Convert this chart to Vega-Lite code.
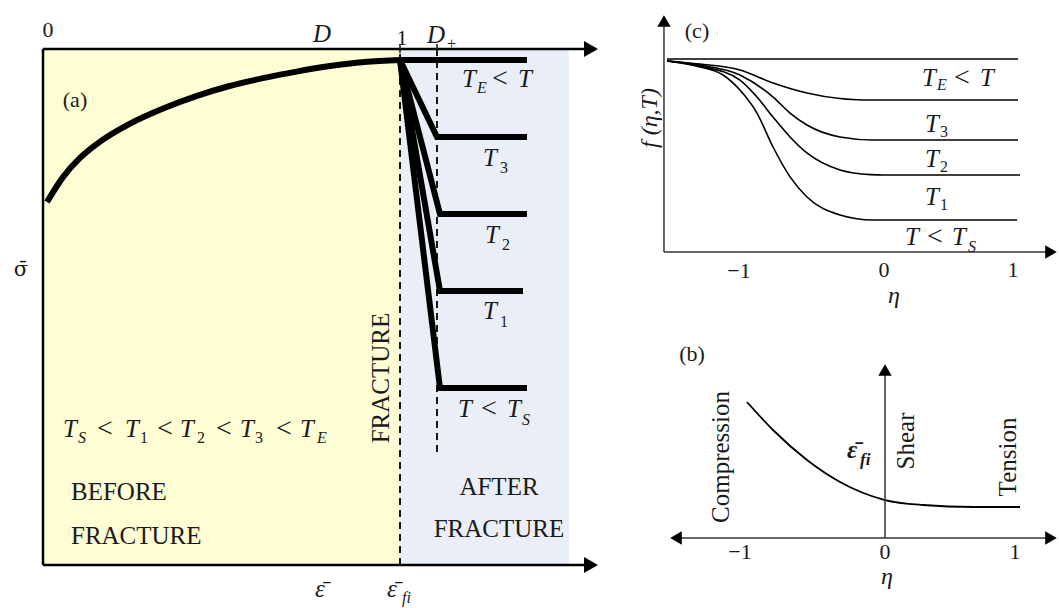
{
  "$schema": "https://vega.github.io/schema/vega-lite/v6.json",
  "padding": 0,
  "background": "white",
  "spacing": 0,
  "config": {"view": {"stroke": null}, "text": {"font": "Liberation Serif", "color": "#1a1a1a"}},
  "datasets": {
    "aBg": [
      {"region": "before", "x": 0, "x2": 1, "y": 0, "y2": 1.0218},
      {"region": "after", "x": 1, "x2": 1.4734, "y": 0, "y2": 1.0218}
    ],
    "aRule": [
      {"k": "axis", "x": 0, "x2": 0, "y": 0, "y2": 1.0218},
      {"k": "axis", "x": 0, "x2": 1.535, "y": 1.0218, "y2": 1.0218},
      {"k": "axis", "x": 0, "x2": 1.535, "y": 0, "y2": 0},
      {"k": "dash", "x": 1, "x2": 1, "y": 0, "y2": 1.0218},
      {"k": "dash", "x": 1.1036, "x2": 1.1036, "y": 0.2238, "y2": 1.0218},
      {"k": "tick", "x": 1, "x2": 1, "y": 1.0139, "y2": 1.0317},
      {"k": "tick", "x": 1.1036, "x2": 1.1036, "y": 1.0139, "y2": 1.0317}
    ],
    "aArrow": [
      {"d": "right", "x": 1.535, "y": 1.0218},
      {"d": "right", "x": 1.535, "y": 0}
    ],
    "aLine": [
      {"s": "pre", "o": 1, "x": 0.0112, "y": 0.7188},
      {"s": "pre", "o": 2, "x": 0.056, "y": 0.768},
      {"s": "pre", "o": 3, "x": 0.1036, "y": 0.806},
      {"s": "pre", "o": 4, "x": 0.1513, "y": 0.834},
      {"s": "pre", "o": 5, "x": 0.2437, "y": 0.874},
      {"s": "pre", "o": 6, "x": 0.34, "y": 0.905},
      {"s": "pre", "o": 7, "x": 0.4314, "y": 0.929},
      {"s": "pre", "o": 8, "x": 0.52, "y": 0.948},
      {"s": "pre", "o": 9, "x": 0.6162, "y": 0.964},
      {"s": "pre", "o": 10, "x": 0.71, "y": 0.977},
      {"s": "pre", "o": 11, "x": 0.8039, "y": 0.988},
      {"s": "pre", "o": 12, "x": 0.9, "y": 0.996},
      {"s": "pre", "o": 13, "x": 1.0, "y": 1.0},
      {"s": "E", "o": 1, "x": 1, "y": 1},
      {"s": "E", "o": 2, "x": 1.3557, "y": 1},
      {"s": "T3", "o": 1, "x": 1, "y": 1},
      {"s": "T3", "o": 2, "x": 1.1036, "y": 0.8475},
      {"s": "T3", "o": 3, "x": 1.3557, "y": 0.8475},
      {"s": "T2", "o": 1, "x": 1, "y": 1},
      {"s": "T2", "o": 2, "x": 1.112, "y": 0.695},
      {"s": "T2", "o": 3, "x": 1.3557, "y": 0.695},
      {"s": "T1", "o": 1, "x": 1, "y": 1},
      {"s": "T1", "o": 2, "x": 1.112, "y": 0.5426},
      {"s": "T1", "o": 3, "x": 1.3445, "y": 0.5426},
      {"s": "Ts", "o": 1, "x": 1, "y": 1},
      {"s": "Ts", "o": 2, "x": 1.112, "y": 0.3505},
      {"s": "Ts", "o": 3, "x": 1.3557, "y": 0.3505}
    ],
    "aText": [
      {"k": "num", "t": "0", "x": 0.014, "y": 1.0594},
      {"k": "num", "t": "1", "x": 1.0056, "y": 1.0436},
      {"k": "num", "t": "(a)", "x": 0.0896, "y": 0.9208},
      {"k": "sig", "t": "σ̄", "x": -0.0616, "y": 0.5842},
      {"k": "lblL", "t": "BEFORE", "x": 0.0784, "y": 0.1446},
      {"k": "lblL", "t": "FRACTURE", "x": 0.0784, "y": 0.0574},
      {"k": "lblC", "t": "AFTER", "x": 1.2773, "y": 0.1545},
      {"k": "lblC", "t": "FRACTURE", "x": 1.2773, "y": 0.0713},
      {"k": "rot", "t": "FRACTURE", "x": 0.9468, "y": 0.3703},
      {"k": "math", "t": "D", "x": 0.7563, "y": 1.0356},
      {"k": "math", "t": "D", "x": 1.0756, "y": 1.0337},
      {"k": "math", "t": "T", "x": 1.1737, "y": 0.9465},
      {"k": "math", "t": "T", "x": 1.3305, "y": 0.9465},
      {"k": "math", "t": "T", "x": 1.2325, "y": 0.7901},
      {"k": "math", "t": "T", "x": 1.2381, "y": 0.6376},
      {"k": "math", "t": "T", "x": 1.2325, "y": 0.4871},
      {"k": "math", "t": "T", "x": 1.1625, "y": 0.2931},
      {"k": "math", "t": "T", "x": 1.2997, "y": 0.2931},
      {"k": "math", "t": "T", "x": 0.056, "y": 0.2535},
      {"k": "math", "t": "T", "x": 0.2297, "y": 0.2535},
      {"k": "math", "t": "T", "x": 0.3838, "y": 0.2535},
      {"k": "math", "t": "T", "x": 0.5518, "y": 0.2535},
      {"k": "math", "t": "T", "x": 0.7199, "y": 0.2535},
      {"k": "math", "t": "ε̄", "x": 0.7619, "y": -0.0634},
      {"k": "math", "t": "ε̄", "x": 0.9636, "y": -0.0634},
      {"k": "op", "t": "<", "x": 1.2577, "y": 0.9465},
      {"k": "op", "t": "<", "x": 1.2269, "y": 0.2931},
      {"k": "op", "t": "<", "x": 0.1513, "y": 0.2535},
      {"k": "op", "t": "<", "x": 0.3193, "y": 0.2535},
      {"k": "op", "t": "<", "x": 0.4846, "y": 0.2535},
      {"k": "op", "t": "<", "x": 0.6527, "y": 0.2535},
      {"k": "subN", "t": "+", "x": 1.1317, "y": 1.0218},
      {"k": "sub", "t": "E", "x": 1.2157, "y": 0.9347},
      {"k": "subN", "t": "3", "x": 1.2801, "y": 0.7762},
      {"k": "subN", "t": "2", "x": 1.2857, "y": 0.6238},
      {"k": "subN", "t": "1", "x": 1.2801, "y": 0.4713},
      {"k": "sub", "t": "S", "x": 1.3417, "y": 0.2772},
      {"k": "sub", "t": "S", "x": 0.098, "y": 0.2416},
      {"k": "subN", "t": "1", "x": 0.2717, "y": 0.2416},
      {"k": "subN", "t": "2", "x": 0.4314, "y": 0.2416},
      {"k": "subN", "t": "3", "x": 0.5938, "y": 0.2416},
      {"k": "sub", "t": "E", "x": 0.7675, "y": 0.2416},
      {"k": "sub", "t": "fi", "x": 1.0056, "y": -0.0752}
    ],
    "cRule": [
      {"k": "axis", "x": -1.642, "x2": -1.642, "y": 0, "y2": 1.1969},
      {"k": "axis", "x": -1.642, "x2": 1.2463, "y": 0, "y2": 0}
    ],
    "cArrow": [
      {"d": "up", "x": -1.642, "y": 1.1969},
      {"d": "right", "x": 1.2463, "y": 0}
    ],
    "cLine": [
      {"s": "c0", "o": 1, "x": -1.6194, "y": 1.0},
      {"s": "c0", "o": 2, "x": 1.0, "y": 1.0},
      {"s": "c3", "o": 1, "x": -1.619, "y": 0.99},
      {"s": "c3", "o": 2, "x": -1.373, "y": 0.974},
      {"s": "c3", "o": 3, "x": -1.075, "y": 0.943},
      {"s": "c3", "o": 4, "x": -0.828, "y": 0.876},
      {"s": "c3", "o": 5, "x": -0.575, "y": 0.824},
      {"s": "c3", "o": 6, "x": -0.328, "y": 0.795},
      {"s": "c3", "o": 7, "x": -0.157, "y": 0.7876},
      {"s": "c3", "o": 8, "x": 1.0, "y": 0.7876},
      {"s": "c2", "o": 1, "x": -1.619, "y": 0.99},
      {"s": "c2", "o": 2, "x": -1.373, "y": 0.969},
      {"s": "c2", "o": 3, "x": -1.075, "y": 0.917},
      {"s": "c2", "o": 4, "x": -0.828, "y": 0.803},
      {"s": "c2", "o": 5, "x": -0.701, "y": 0.72},
      {"s": "c2", "o": 6, "x": -0.575, "y": 0.658},
      {"s": "c2", "o": 7, "x": -0.328, "y": 0.596},
      {"s": "c2", "o": 8, "x": -0.082, "y": 0.5803},
      {"s": "c2", "o": 9, "x": 1.0, "y": 0.5803},
      {"s": "c1", "o": 1, "x": -1.619, "y": 0.99},
      {"s": "c1", "o": 2, "x": -1.373, "y": 0.964},
      {"s": "c1", "o": 3, "x": -1.075, "y": 0.891},
      {"s": "c1", "o": 4, "x": -0.948, "y": 0.803},
      {"s": "c1", "o": 5, "x": -0.828, "y": 0.699},
      {"s": "c1", "o": 6, "x": -0.701, "y": 0.596},
      {"s": "c1", "o": 7, "x": -0.575, "y": 0.513},
      {"s": "c1", "o": 8, "x": -0.328, "y": 0.425},
      {"s": "c1", "o": 9, "x": -0.1, "y": 0.401},
      {"s": "c1", "o": 10, "x": 0.0, "y": 0.399},
      {"s": "c1", "o": 11, "x": 1.015, "y": 0.399},
      {"s": "cs", "o": 1, "x": -1.619, "y": 0.99},
      {"s": "cs", "o": 2, "x": -1.373, "y": 0.959},
      {"s": "cs", "o": 3, "x": -1.201, "y": 0.917},
      {"s": "cs", "o": 4, "x": -1.075, "y": 0.839},
      {"s": "cs", "o": 5, "x": -0.948, "y": 0.72},
      {"s": "cs", "o": 6, "x": -0.828, "y": 0.544},
      {"s": "cs", "o": 7, "x": -0.701, "y": 0.389},
      {"s": "cs", "o": 8, "x": -0.575, "y": 0.285},
      {"s": "cs", "o": 9, "x": -0.328, "y": 0.192},
      {"s": "cs", "o": 10, "x": -0.082, "y": 0.1658},
      {"s": "cs", "o": 11, "x": 0.993, "y": 0.1658}
    ],
    "cText": [
      {"k": "num", "t": "−1", "x": -1.0821, "y": -0.0984},
      {"k": "num", "t": "0", "x": 0, "y": -0.0933},
      {"k": "num", "t": "1", "x": 0.9627, "y": -0.0933},
      {"k": "num", "t": "(c)", "x": -1.3955, "y": 1.1451},
      {"k": "mathC", "t": "η", "x": 0.0746, "y": -0.228},
      {"k": "rotM", "t": "f (η,T)", "x": -1.7463, "y": 0.6943},
      {"k": "math", "t": "T", "x": 0.2836, "y": 0.8601},
      {"k": "math", "t": "T", "x": 0.7164, "y": 0.8601},
      {"k": "math", "t": "T", "x": 0.306, "y": 0.6218},
      {"k": "math", "t": "T", "x": 0.306, "y": 0.4404},
      {"k": "math", "t": "T", "x": 0.306, "y": 0.2435},
      {"k": "math", "t": "T", "x": 0.1567, "y": 0.0363},
      {"k": "math", "t": "T", "x": 0.5075, "y": 0.0363},
      {"k": "op", "t": "<", "x": 0.5224, "y": 0.8601},
      {"k": "op", "t": "<", "x": 0.3209, "y": 0.0363},
      {"k": "sub", "t": "E", "x": 0.3955, "y": 0.8394},
      {"k": "subN", "t": "3", "x": 0.4179, "y": 0.5959},
      {"k": "subN", "t": "2", "x": 0.4179, "y": 0.4145},
      {"k": "subN", "t": "1", "x": 0.4179, "y": 0.2176},
      {"k": "sub", "t": "S", "x": 0.6269, "y": 0.0}
    ],
    "bRule": [
      {"k": "axis", "x": 0, "x2": 0, "y": 0, "y2": 0.96},
      {"k": "axis", "x": -1.5597, "x2": 1.2388, "y": 0, "y2": 0}
    ],
    "bArrow": [
      {"d": "up", "x": 0, "y": 0.96},
      {"d": "left", "x": -1.5597, "y": 0},
      {"d": "right", "x": 1.2388, "y": 0}
    ],
    "bLine": [
      {"s": "b", "o": 1, "x": -1.0299, "y": 0.7771},
      {"s": "b", "o": 2, "x": -0.8358, "y": 0.6171},
      {"s": "b", "o": 3, "x": -0.5821, "y": 0.4457},
      {"s": "b", "o": 4, "x": -0.3358, "y": 0.32},
      {"s": "b", "o": 5, "x": 0, "y": 0.2171},
      {"s": "b", "o": 6, "x": 0.2836, "y": 0.1886},
      {"s": "b", "o": 7, "x": 0.6567, "y": 0.1771},
      {"s": "b", "o": 8, "x": 1.0075, "y": 0.1771}
    ],
    "bText": [
      {"k": "num", "t": "−1", "x": -1.0821, "y": -0.08},
      {"k": "num", "t": "0", "x": 0, "y": -0.08},
      {"k": "num", "t": "1", "x": 0.9701, "y": -0.08},
      {"k": "num", "t": "(b)", "x": -1.4403, "y": 1.0514},
      {"k": "mathC", "t": "η", "x": 0.0149, "y": -0.2229},
      {"k": "rot", "t": "Compression", "x": -1.2239, "y": 0.4629},
      {"k": "rot", "t": "Shear", "x": 0.1567, "y": 0.5543},
      {"k": "rot", "t": "Tension", "x": 0.9179, "y": 0.4629},
      {"k": "mathB", "t": "ε̄", "x": -0.2836, "y": 0.4571},
      {"k": "subB", "t": "fi", "x": -0.1866, "y": 0.4171}
    ]
  },
  "hconcat": [
    {
      "width": 620,
      "height": 608,
      "encoding": {
        "x": {"field": "x", "type": "quantitative", "scale": {"domain": [-0.12045, 1.61625], "nice": false, "zero": false}, "axis": null},
        "y": {"field": "y", "type": "quantitative", "scale": {"domain": [-0.08515, 1.11881], "nice": false, "zero": false}, "axis": null}
      },
      "layer": [
        {"data": {"name": "aBg"}, "mark": {"type": "rect"}, "encoding": {"x2": {"field": "x2"}, "y2": {"field": "y2"}, "color": {"field": "region", "type": "nominal", "scale": {"domain": ["before", "after"], "range": ["#FFFDD4", "#E9EEF7"]}, "legend": null}}},
        {"data": {"name": "aRule"}, "transform": [{"filter": "datum.k == 'dash'"}], "mark": {"type": "rule", "color": "black", "strokeWidth": 1.8, "strokeDash": [7, 5]}, "encoding": {"x2": {"field": "x2"}, "y2": {"field": "y2"}}},
        {"data": {"name": "aLine"}, "transform": [{"filter": "datum.s == 'pre'"}], "mark": {"type": "line", "color": "black", "strokeWidth": 6, "interpolate": "monotone"}, "encoding": {"order": {"field": "o", "type": "quantitative"}}},
        {"data": {"name": "aLine"}, "transform": [{"filter": "datum.s != 'pre'"}], "mark": {"type": "line", "color": "black", "strokeWidth": 6, "strokeJoin": "miter"}, "encoding": {"detail": {"field": "s", "type": "nominal"}, "order": {"field": "o", "type": "quantitative"}}},
        {"data": {"name": "aRule"}, "transform": [{"filter": "datum.k == 'axis'"}], "mark": {"type": "rule", "color": "black", "strokeWidth": 2.5}, "encoding": {"x2": {"field": "x2"}, "y2": {"field": "y2"}}},
        {"data": {"name": "aRule"}, "transform": [{"filter": "datum.k == 'tick'"}], "mark": {"type": "rule", "color": "#1a1a1a", "strokeWidth": 1.5}, "encoding": {"y2": {"field": "y2"}}},
        {"data": {"name": "aArrow"}, "mark": {"type": "point", "filled": true, "color": "black", "opacity": 1, "size": 260}, "encoding": {"shape": {"field": "d", "type": "nominal", "scale": {"domain": ["right", "up", "left"], "range": ["triangle-right", "triangle-up", "triangle-left"]}, "legend": null}}},
        {"data": {"name": "aText"}, "transform": [{"filter": "datum.k == 'num'"}], "mark": {"type": "text", "fontSize": 22, "align": "center", "baseline": "middle"}, "encoding": {"text": {"field": "t"}}},
        {"data": {"name": "aText"}, "transform": [{"filter": "datum.k == 'sig'"}], "mark": {"type": "text", "font": "DejaVu Serif", "fontSize": 21, "align": "center", "baseline": "middle"}, "encoding": {"text": {"field": "t"}}},
        {"data": {"name": "aText"}, "transform": [{"filter": "datum.k == 'lblL'"}], "mark": {"type": "text", "fontSize": 25, "align": "left", "baseline": "middle"}, "encoding": {"text": {"field": "t"}}},
        {"data": {"name": "aText"}, "transform": [{"filter": "datum.k == 'lblC'"}], "mark": {"type": "text", "fontSize": 25, "align": "center", "baseline": "middle"}, "encoding": {"text": {"field": "t"}}},
        {"data": {"name": "aText"}, "transform": [{"filter": "datum.k == 'rot'"}], "mark": {"type": "text", "fontSize": 25, "align": "center", "baseline": "middle", "angle": 270}, "encoding": {"text": {"field": "t"}}},
        {"data": {"name": "aText"}, "transform": [{"filter": "datum.k == 'math'"}], "mark": {"type": "text", "fontSize": 25, "fontStyle": "italic", "align": "left", "baseline": "alphabetic"}, "encoding": {"text": {"field": "t"}}},
        {"data": {"name": "aText"}, "transform": [{"filter": "datum.k == 'op'"}], "mark": {"type": "text", "fontSize": 28, "align": "left", "baseline": "alphabetic"}, "encoding": {"text": {"field": "t"}}},
        {"data": {"name": "aText"}, "transform": [{"filter": "datum.k == 'sub'"}], "mark": {"type": "text", "fontSize": 16, "fontStyle": "italic", "align": "left", "baseline": "alphabetic"}, "encoding": {"text": {"field": "t"}}},
        {"data": {"name": "aText"}, "transform": [{"filter": "datum.k == 'subN'"}], "mark": {"type": "text", "fontSize": 16, "align": "left", "baseline": "alphabetic"}, "encoding": {"text": {"field": "t"}}}
      ]
    },
    {
      "spacing": 0,
      "vconcat": [
        {
          "width": 439,
          "height": 318,
          "encoding": {
            "x": {"field": "x", "type": "quantitative", "scale": {"domain": [-1.9701, 1.306], "nice": false, "zero": false}, "axis": null},
            "y": {"field": "y", "type": "quantitative", "scale": {"domain": [-0.342, 1.3057], "nice": false, "zero": false}, "axis": null}
          },
          "layer": [
            {"data": {"name": "cLine"}, "mark": {"type": "line", "color": "black", "strokeWidth": 1.6, "interpolate": "monotone"}, "encoding": {"detail": {"field": "s", "type": "nominal"}, "order": {"field": "o", "type": "quantitative"}}},
            {"data": {"name": "cRule"}, "mark": {"type": "rule", "color": "#333333", "strokeWidth": 1.5}, "encoding": {"x2": {"field": "x2"}, "y2": {"field": "y2"}}},
            {"data": {"name": "cArrow"}, "mark": {"type": "point", "filled": true, "color": "black", "opacity": 1, "size": 180}, "encoding": {"shape": {"field": "d", "type": "nominal", "scale": {"domain": ["right", "up", "left"], "range": ["triangle-right", "triangle-up", "triangle-left"]}, "legend": null}}},
            {"data": {"name": "cText"}, "transform": [{"filter": "datum.k == 'num'"}], "mark": {"type": "text", "fontSize": 22, "align": "center", "baseline": "middle"}, "encoding": {"text": {"field": "t"}}},
            {"data": {"name": "cText"}, "transform": [{"filter": "datum.k == 'mathC'"}], "mark": {"type": "text", "fontSize": 24, "fontStyle": "italic", "align": "center", "baseline": "middle"}, "encoding": {"text": {"field": "t"}}},
            {"data": {"name": "cText"}, "transform": [{"filter": "datum.k == 'rotM'"}], "mark": {"type": "text", "fontSize": 24, "fontStyle": "italic", "align": "center", "baseline": "middle", "angle": 270}, "encoding": {"text": {"field": "t"}}},
            {"data": {"name": "cText"}, "transform": [{"filter": "datum.k == 'math'"}], "mark": {"type": "text", "fontSize": 25, "fontStyle": "italic", "align": "left", "baseline": "alphabetic"}, "encoding": {"text": {"field": "t"}}},
            {"data": {"name": "cText"}, "transform": [{"filter": "datum.k == 'op'"}], "mark": {"type": "text", "fontSize": 28, "align": "left", "baseline": "alphabetic"}, "encoding": {"text": {"field": "t"}}},
            {"data": {"name": "cText"}, "transform": [{"filter": "datum.k == 'sub'"}], "mark": {"type": "text", "fontSize": 16, "fontStyle": "italic", "align": "left", "baseline": "alphabetic"}, "encoding": {"text": {"field": "t"}}},
            {"data": {"name": "cText"}, "transform": [{"filter": "datum.k == 'subN'"}], "mark": {"type": "text", "fontSize": 16, "align": "left", "baseline": "alphabetic"}, "encoding": {"text": {"field": "t"}}}
          ]
        },
        {
          "width": 439,
          "height": 290,
          "encoding": {
            "x": {"field": "x", "type": "quantitative", "scale": {"domain": [-1.9776, 1.2985], "nice": false, "zero": false}, "axis": null},
            "y": {"field": "y", "type": "quantitative", "scale": {"domain": [-0.4, 1.2571], "nice": false, "zero": false}, "axis": null}
          },
          "layer": [
            {"data": {"name": "bLine"}, "mark": {"type": "line", "color": "black", "strokeWidth": 1.8, "interpolate": "monotone"}, "encoding": {"order": {"field": "o", "type": "quantitative"}}},
            {"data": {"name": "bRule"}, "mark": {"type": "rule", "color": "#333333", "strokeWidth": 1.5}, "encoding": {"x2": {"field": "x2"}, "y2": {"field": "y2"}}},
            {"data": {"name": "bArrow"}, "mark": {"type": "point", "filled": true, "color": "black", "opacity": 1, "size": 180}, "encoding": {"shape": {"field": "d", "type": "nominal", "scale": {"domain": ["right", "up", "left"], "range": ["triangle-right", "triangle-up", "triangle-left"]}, "legend": null}}},
            {"data": {"name": "bText"}, "transform": [{"filter": "datum.k == 'num'"}], "mark": {"type": "text", "fontSize": 22, "align": "center", "baseline": "middle"}, "encoding": {"text": {"field": "t"}}},
            {"data": {"name": "bText"}, "transform": [{"filter": "datum.k == 'mathC'"}], "mark": {"type": "text", "fontSize": 24, "fontStyle": "italic", "align": "center", "baseline": "middle"}, "encoding": {"text": {"field": "t"}}},
            {"data": {"name": "bText"}, "transform": [{"filter": "datum.k == 'rot'"}], "mark": {"type": "text", "fontSize": 25, "align": "center", "baseline": "middle", "angle": 270}, "encoding": {"text": {"field": "t"}}},
            {"data": {"name": "bText"}, "transform": [{"filter": "datum.k == 'mathB'"}], "mark": {"type": "text", "fontSize": 25, "fontStyle": "italic", "fontWeight": "bold", "align": "left", "baseline": "alphabetic"}, "encoding": {"text": {"field": "t"}}},
            {"data": {"name": "bText"}, "transform": [{"filter": "datum.k == 'subB'"}], "mark": {"type": "text", "fontSize": 17, "fontStyle": "italic", "fontWeight": "bold", "align": "left", "baseline": "alphabetic"}, "encoding": {"text": {"field": "t"}}}
          ]
        }
      ]
    }
  ]
}
